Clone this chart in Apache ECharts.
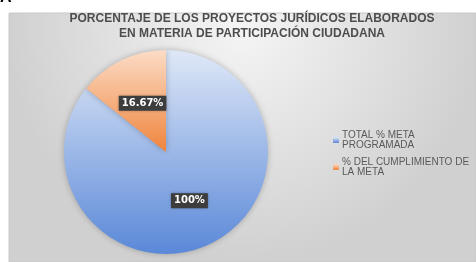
<!DOCTYPE html>
<html>
<head>
<meta charset="utf-8">
<script src="https://cdn.jsdelivr.net/npm/echarts@6/dist/echarts.min.js"></script>
<style>
html,body{margin:0;padding:0;background:#fff;}
#chart{width:476px;height:262px;}
</style>
</head>
<body>
<div id="chart"></div>
<script>
var categories = ["TOTAL % META PROGRAMADA", "% DEL CUMPLIMIENTO DE LA META"];
var values = [100, 16.67];
var legendLabels = ["TOTAL % META\nPROGRAMADA", "% DEL CUMPLIMIENTO DE\nLA META"];
var colorsTop = ["#dfe8f7", "#fcdcc6"];
var colorsBottom = ["#5a88d8", "#ef843c"];

var myChart = echarts.init(document.getElementById("chart"));

var pieData = categories.map(function(name, i){
	return {
		name: name,
		value: values[i],
		itemStyle: {
			color: new echarts.graphic.LinearGradient(0, 0, 0, 1, [
				{offset: 0, color: colorsTop[i]},
				{offset: 1, color: colorsBottom[i]}
			])
		}
	};
});

var option = {
	animation: false,
	graphic: [{
		type: "rect",
		z: -10,
		shape: {x: 9, y: 13, width: 467, height: 249},
		style: {
			fill: new echarts.graphic.RadialGradient(0.5, 0.05, 0.95, [
				{offset: 0, color: "#f5f5f5"},
				{offset: 1, color: "#d0d0d0"}
			]),
			stroke: "#c8c8c8",
			lineWidth: 1
		}
	}, {
		// stray letter cut off at the top of the page
		type: "text",
		left: 0,
		top: -10,
		style: {text: "A", fontSize: 16, fontWeight: "bold", fill: "#000", fontFamily: "Liberation Sans"}
	}],
	title: {
		text: "PORCENTAJE DE LOS PROYECTOS JURÍDICOS ELABORADOS\nEN MATERIA DE PARTICIPACIÓN CIUDADANA",
		left: 247,
		top: 6,
		textAlign: "center",
		textStyle: {
			fontFamily: "Liberation Sans",
			fontSize: 12,
			fontWeight: "bold",
			color: "#4d4d4d",
			lineHeight: 15
		}
	},
	legend: {
		orient: "vertical",
		left: 328,
		top: 125,
		icon: "rect",
		itemWidth: 6,
		itemHeight: 6,
		itemGap: 7,
		formatter: function(name){
			return legendLabels[categories.indexOf(name)];
		},
		textStyle: {
			fontFamily: "Liberation Sans",
			fontSize: 10,
			color: "#595959",
			lineHeight: 10,
			padding: [0, 0, 0, -2]
		},
		data: categories
	},
	series: [{
		type: "pie",
		center: [166, 152],
		radius: 102,
		startAngle: 90,
		clockwise: true,
		itemStyle: {
			borderWidth: 0,
			shadowBlur: 6,
			shadowColor: "rgba(0,0,0,0.25)"
		},
		label: {
			show: true,
			position: "inside",
			formatter: "{c}%",
			fontFamily: "DejaVu Sans",
			fontSize: 10,
			fontWeight: "bold",
			color: "#fff",
			backgroundColor: "#3d3d3d",
			padding: [3, 3, 2, 3],
			shadowBlur: 3,
			shadowColor: "rgba(0,0,0,0.4)"
		},
		labelLine: {show: false},
		emphasis: {disabled: true},
		data: pieData
	}]
};
myChart.setOption(option);
</script>
</body>
</html>
